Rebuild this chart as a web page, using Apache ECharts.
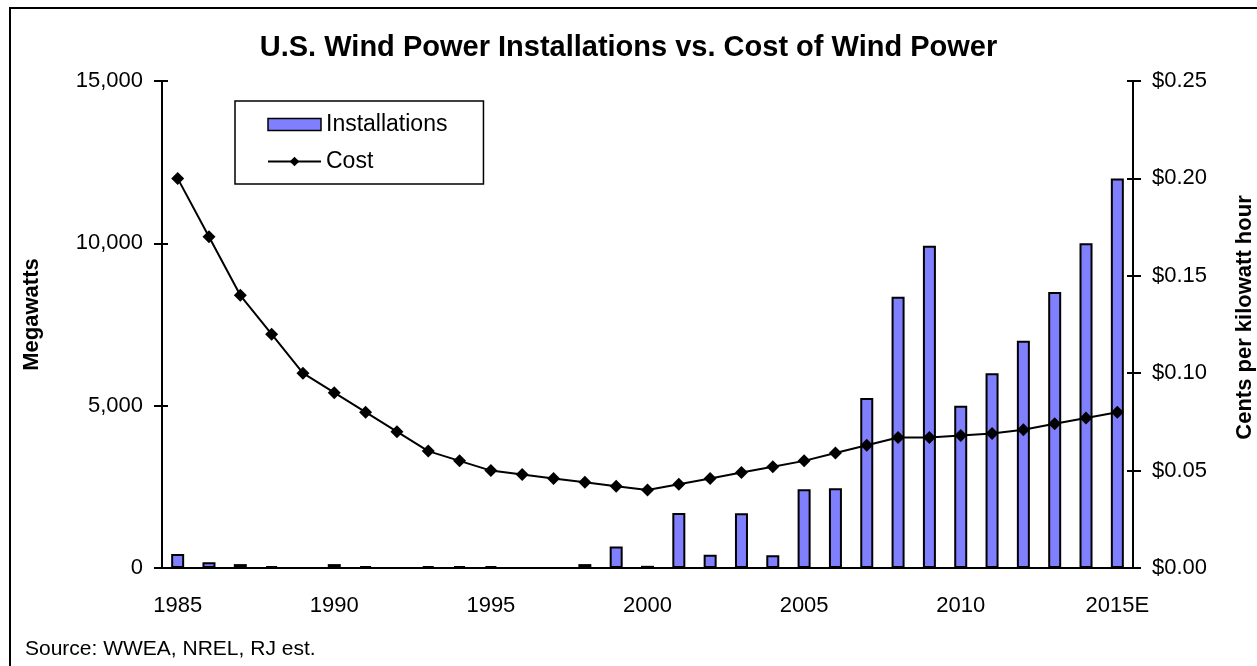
<!DOCTYPE html>
<html>
<head>
<meta charset="utf-8">
<script src="https://cdn.jsdelivr.net/npm/echarts@6/dist/echarts.min.js"></script>
<style>
  html, body { margin: 0; padding: 0; background: #fff; }
  #chart { width: 1257px; height: 666px; }
</style>
</head>
<body>
<div id="chart"></div>
<script>
const years = ['1985', '1986', '1987', '1988', '1989', '1990', '1991', '1992', '1993', '1994',
  '1995', '1996', '1997', '1998', '1999', '2000', '2001', '2002', '2003', '2004',
  '2005', '2006', '2007', '2008', '2009', '2010', '2011', '2012', '2013', '2014', '2015E']

// megawatts installed per year
const installations = [430, 180, 120, 60, 0, 120, 60, 0, 60, 60,
  60, 0, 0, 120, 665, 67, 1697, 410, 1687, 389,
  2424, 2454, 5237, 8358, 9922, 5000, 6000, 7000, 8500, 10000, 12000]

// dollars per kWh
const cost = [0.200, 0.170, 0.140, 0.120, 0.100, 0.090, 0.080, 0.070, 0.060, 0.055,
  0.050, 0.048, 0.046, 0.044, 0.042, 0.040, 0.043, 0.046, 0.049, 0.052,
  0.055, 0.059, 0.063, 0.067, 0.067, 0.068, 0.069, 0.071, 0.074, 0.077, 0.080]

const mwTicks = { min: 0, max: 15000, interval: 5000 }
const costTicks = { min: 0, max: 0.25, interval: 0.05 }

const FONT = '"Liberation Sans", Arial, sans-serif'
const black = '#000'

const tickStyle = { color: black, width: 2 }

// ticks in Excel cross the axis line, so each axis gets an "inside" twin
const outerY = (ticks, pos, name, gap, pad, fmt) => ({
  type: 'value',
  position: pos,
  min: ticks.min,
  max: ticks.max,
  interval: ticks.interval,
  name: name,
  nameLocation: 'middle',
  nameRotate: 90,
  nameGap: gap,
  nameTextStyle: { color: black, fontSize: 22, fontWeight: 'bold', fontFamily: FONT, padding: pad },
  axisLine: { show: true, lineStyle: { color: black, width: 2 } },
  axisTick: { show: true, length: 8, lineStyle: tickStyle },
  axisLabel: { color: black, fontSize: 22, fontFamily: FONT, margin: 19, formatter: fmt },
  splitLine: { show: false }
})

const innerY = (ticks, pos) => ({
  type: 'value',
  position: pos,
  min: ticks.min,
  max: ticks.max,
  interval: ticks.interval,
  axisLine: { show: false },
  axisTick: { show: true, inside: true, length: 6, lineStyle: tickStyle },
  axisLabel: { show: false },
  splitLine: { show: false }
})

const chart = echarts.init(document.getElementById('chart'))

chart.setOption({
  animation: false,
  backgroundColor: '#fff',
  title: {
    text: 'U.S. Wind Power Installations vs. Cost of Wind Power',
    left: 'center',
    top: 28,
    textStyle: { color: black, fontSize: 29, fontWeight: 'bold', fontFamily: FONT }
  },
  // keep the plot box fixed, the right axis title runs up to the edge
  grid: { left: 162, right: 124, top: 81, bottom: 98, containLabel: false, outerBoundsMode: 'none' },
  legend: {
    orient: 'vertical',
    left: 235,
    top: 101,
    padding: [11, 36, 10, 32],
    itemGap: 12,
    itemWidth: 53,
    itemHeight: 12,
    backgroundColor: '#fff',
    borderColor: black,
    borderWidth: 1.5,
    borderRadius: 0,
    textStyle: { color: black, fontSize: 23, lineHeight: 25, fontFamily: FONT },
    data: [
      { name: 'Installations', icon: 'rect', itemStyle: { color: '#8080ff', borderColor: black, borderWidth: 1.5 } },
      { name: 'Cost' }
    ]
  },
  xAxis: [
    {
      type: 'category',
      data: years,
      axisLine: { lineStyle: { color: black, width: 2 } },
      axisTick: { interval: 0, length: 8, lineStyle: tickStyle },
      axisLabel: { interval: 4, color: black, fontSize: 22, fontFamily: FONT, margin: 27 }
    },
    {
      type: 'category',
      data: years,
      position: 'bottom',
      axisLine: { show: false },
      axisTick: { interval: 0, inside: true, length: 6, lineStyle: tickStyle },
      axisLabel: { show: false }
    }
  ],
  yAxis: [
    outerY(mwTicks, 'left', 'Megawatts', 119, [0, 0, 0, 20], (v) => v.toLocaleString('en-US')),
    outerY(costTicks, 'right', 'Cents per kilowatt hour', 101, [0, 0, 0, 14], (v) => '$' + v.toFixed(2)),
    innerY(mwTicks, 'left'),
    innerY(costTicks, 'right')
  ],
  series: [
    {
      name: 'Installations',
      type: 'bar',
      xAxisIndex: 0,
      yAxisIndex: 0,
      barWidth: 13,
      data: installations,
      itemStyle: { color: '#8080ff', borderColor: black, borderWidth: 2 }
    },
    {
      name: 'Cost',
      type: 'line',
      xAxisIndex: 0,
      yAxisIndex: 1,
      data: cost,
      symbol: 'diamond',
      symbolSize: [13, 13],
      lineStyle: { color: black, width: 2 },
      itemStyle: { color: black },
      z: 5
    }
  ],
  graphic: [
    {
      type: 'rect',
      shape: { x: 10, y: 8, width: 1400, height: 800 },
      style: { fill: null, stroke: black, lineWidth: 2 },
      silent: true,
      z: -1
    },
    {
      type: 'text',
      left: 25,
      top: 639,
      style: { text: 'Source: WWEA, NREL, RJ est.', fill: black, fontSize: 21, fontFamily: FONT }
    }
  ]
})
</script>
</body>
</html>
